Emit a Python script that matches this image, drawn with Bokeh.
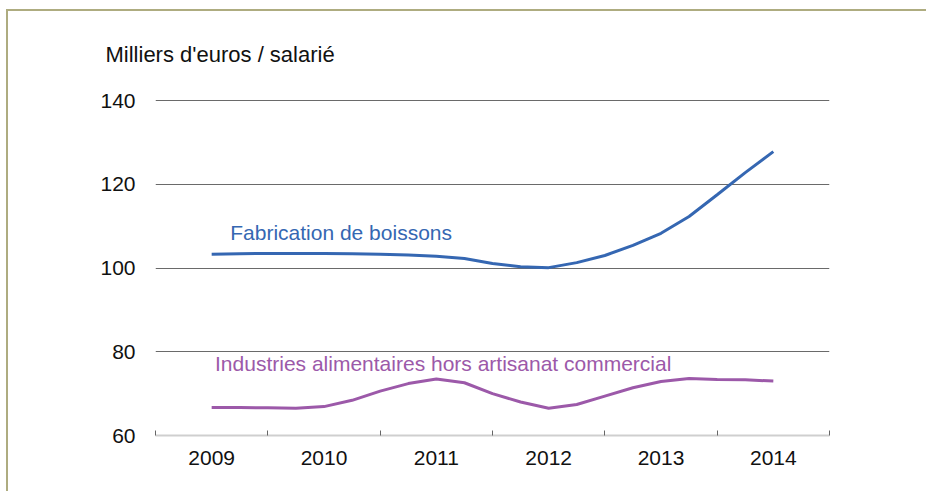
from bokeh.plotting import figure
from bokeh.models import Range1d, FixedTicker, Title, Label
from bokeh.embed import file_html
from bokeh.resources import INLINE

# Quarterly positions (years) and values (milliers d'euros / salarié)
years = [2009.0, 2009.25, 2009.5, 2009.75, 2010.0, 2010.25, 2010.5, 2010.75,
         2011.0, 2011.25, 2011.5, 2011.75, 2012.0, 2012.25, 2012.5, 2012.75,
         2013.0, 2013.25, 2013.5, 2013.75, 2014.0]
boissons = [103.3, 103.4, 103.5, 103.5, 103.5, 103.4, 103.3, 103.1,
            102.8, 102.3, 101.1, 100.3, 100.1, 101.3, 103.0, 105.4,
            108.3, 112.3, 117.5, 122.8, 127.8]
alimentaires = [66.7, 66.7, 66.6, 66.5, 66.9, 68.4, 70.6, 72.4,
                73.5, 72.6, 70.0, 68.0, 66.5, 67.4, 69.4, 71.4,
                72.9, 73.6, 73.4, 73.3, 73.0]
year_ticks = [2009, 2010, 2011, 2012, 2013, 2014]
y_ticks = [60, 80, 100, 120, 140]
title_text = "Milliers d'euros / salarié"
label_boissons = "Fabrication de boissons"
label_alim = "Industries alimentaires hors artisanat commercial"

FONT = "Liberation Sans"
BLUE = "#3567b2"
PURPLE = "#9c59a9"

p = figure(width=920, height=482, output_backend="svg", toolbar_location=None,
           x_range=Range1d(2008.5, 2014.5), y_range=Range1d(60, 140.5),
           min_border_left=147, min_border_right=99, min_border_top=86,
           min_border_bottom=58)
p.styles = {"border-top": "2px solid #aeac80", "border-left": "2px solid #aeac80",
            "margin-left": "6px", "margin-top": "9px"}
p.outline_line_color = None
p.background_fill_color = "white"
p.border_fill_color = "white"

t = Title(text=title_text, text_font=FONT, text_font_size="22px",
          text_font_style="normal", text_color="#111111", align="left",
          offset=-50, standoff=60, vertical_align="top")
p.add_layout(t, "above")

# lines
p.line(years, boissons, line_color=BLUE, line_width=3)
p.line(years, alimentaires, line_color=PURPLE, line_width=3)

# series labels
p.add_layout(Label(x=2009.165, y=108.4, text=label_boissons, text_font=FONT,
                   text_font_size="21px", text_color=BLUE, text_baseline="alphabetic"))
p.add_layout(Label(x=2009.03, y=77.2, text=label_alim, text_font=FONT,
                   text_font_size="21px", text_color=PURPLE, text_baseline="alphabetic"))

# x axis
xa = p.xaxis[0]
xa.ticker = FixedTicker(ticks=year_ticks, minor_ticks=[y - 0.5 for y in year_ticks] + [2014.5])
xa.axis_line_color = "#cfcfcf"
xa.axis_line_width = 2
xa.major_tick_line_color = None
xa.minor_tick_line_color = "#666666"
xa.minor_tick_in = 5
xa.minor_tick_out = 0
xa.major_label_text_font = FONT
xa.major_label_text_font_size = "21px"
xa.major_label_text_color = "#111111"
xa.major_label_standoff = 9

# y axis
ya = p.yaxis[0]
ya.ticker = FixedTicker(ticks=y_ticks)
ya.axis_line_color = None
ya.major_tick_line_color = None
ya.minor_tick_line_color = None
ya.major_label_text_font = FONT
ya.major_label_text_font_size = "21px"
ya.major_label_text_color = "#111111"
ya.major_label_standoff = 14

p.xgrid.grid_line_color = None
p.ygrid.ticker = FixedTicker(ticks=[80, 100, 120, 140])
p.ygrid.grid_line_color = "#6a6a6a"
p.ygrid.grid_line_width = 1

open("out.html", "w").write(file_html(p, INLINE))
